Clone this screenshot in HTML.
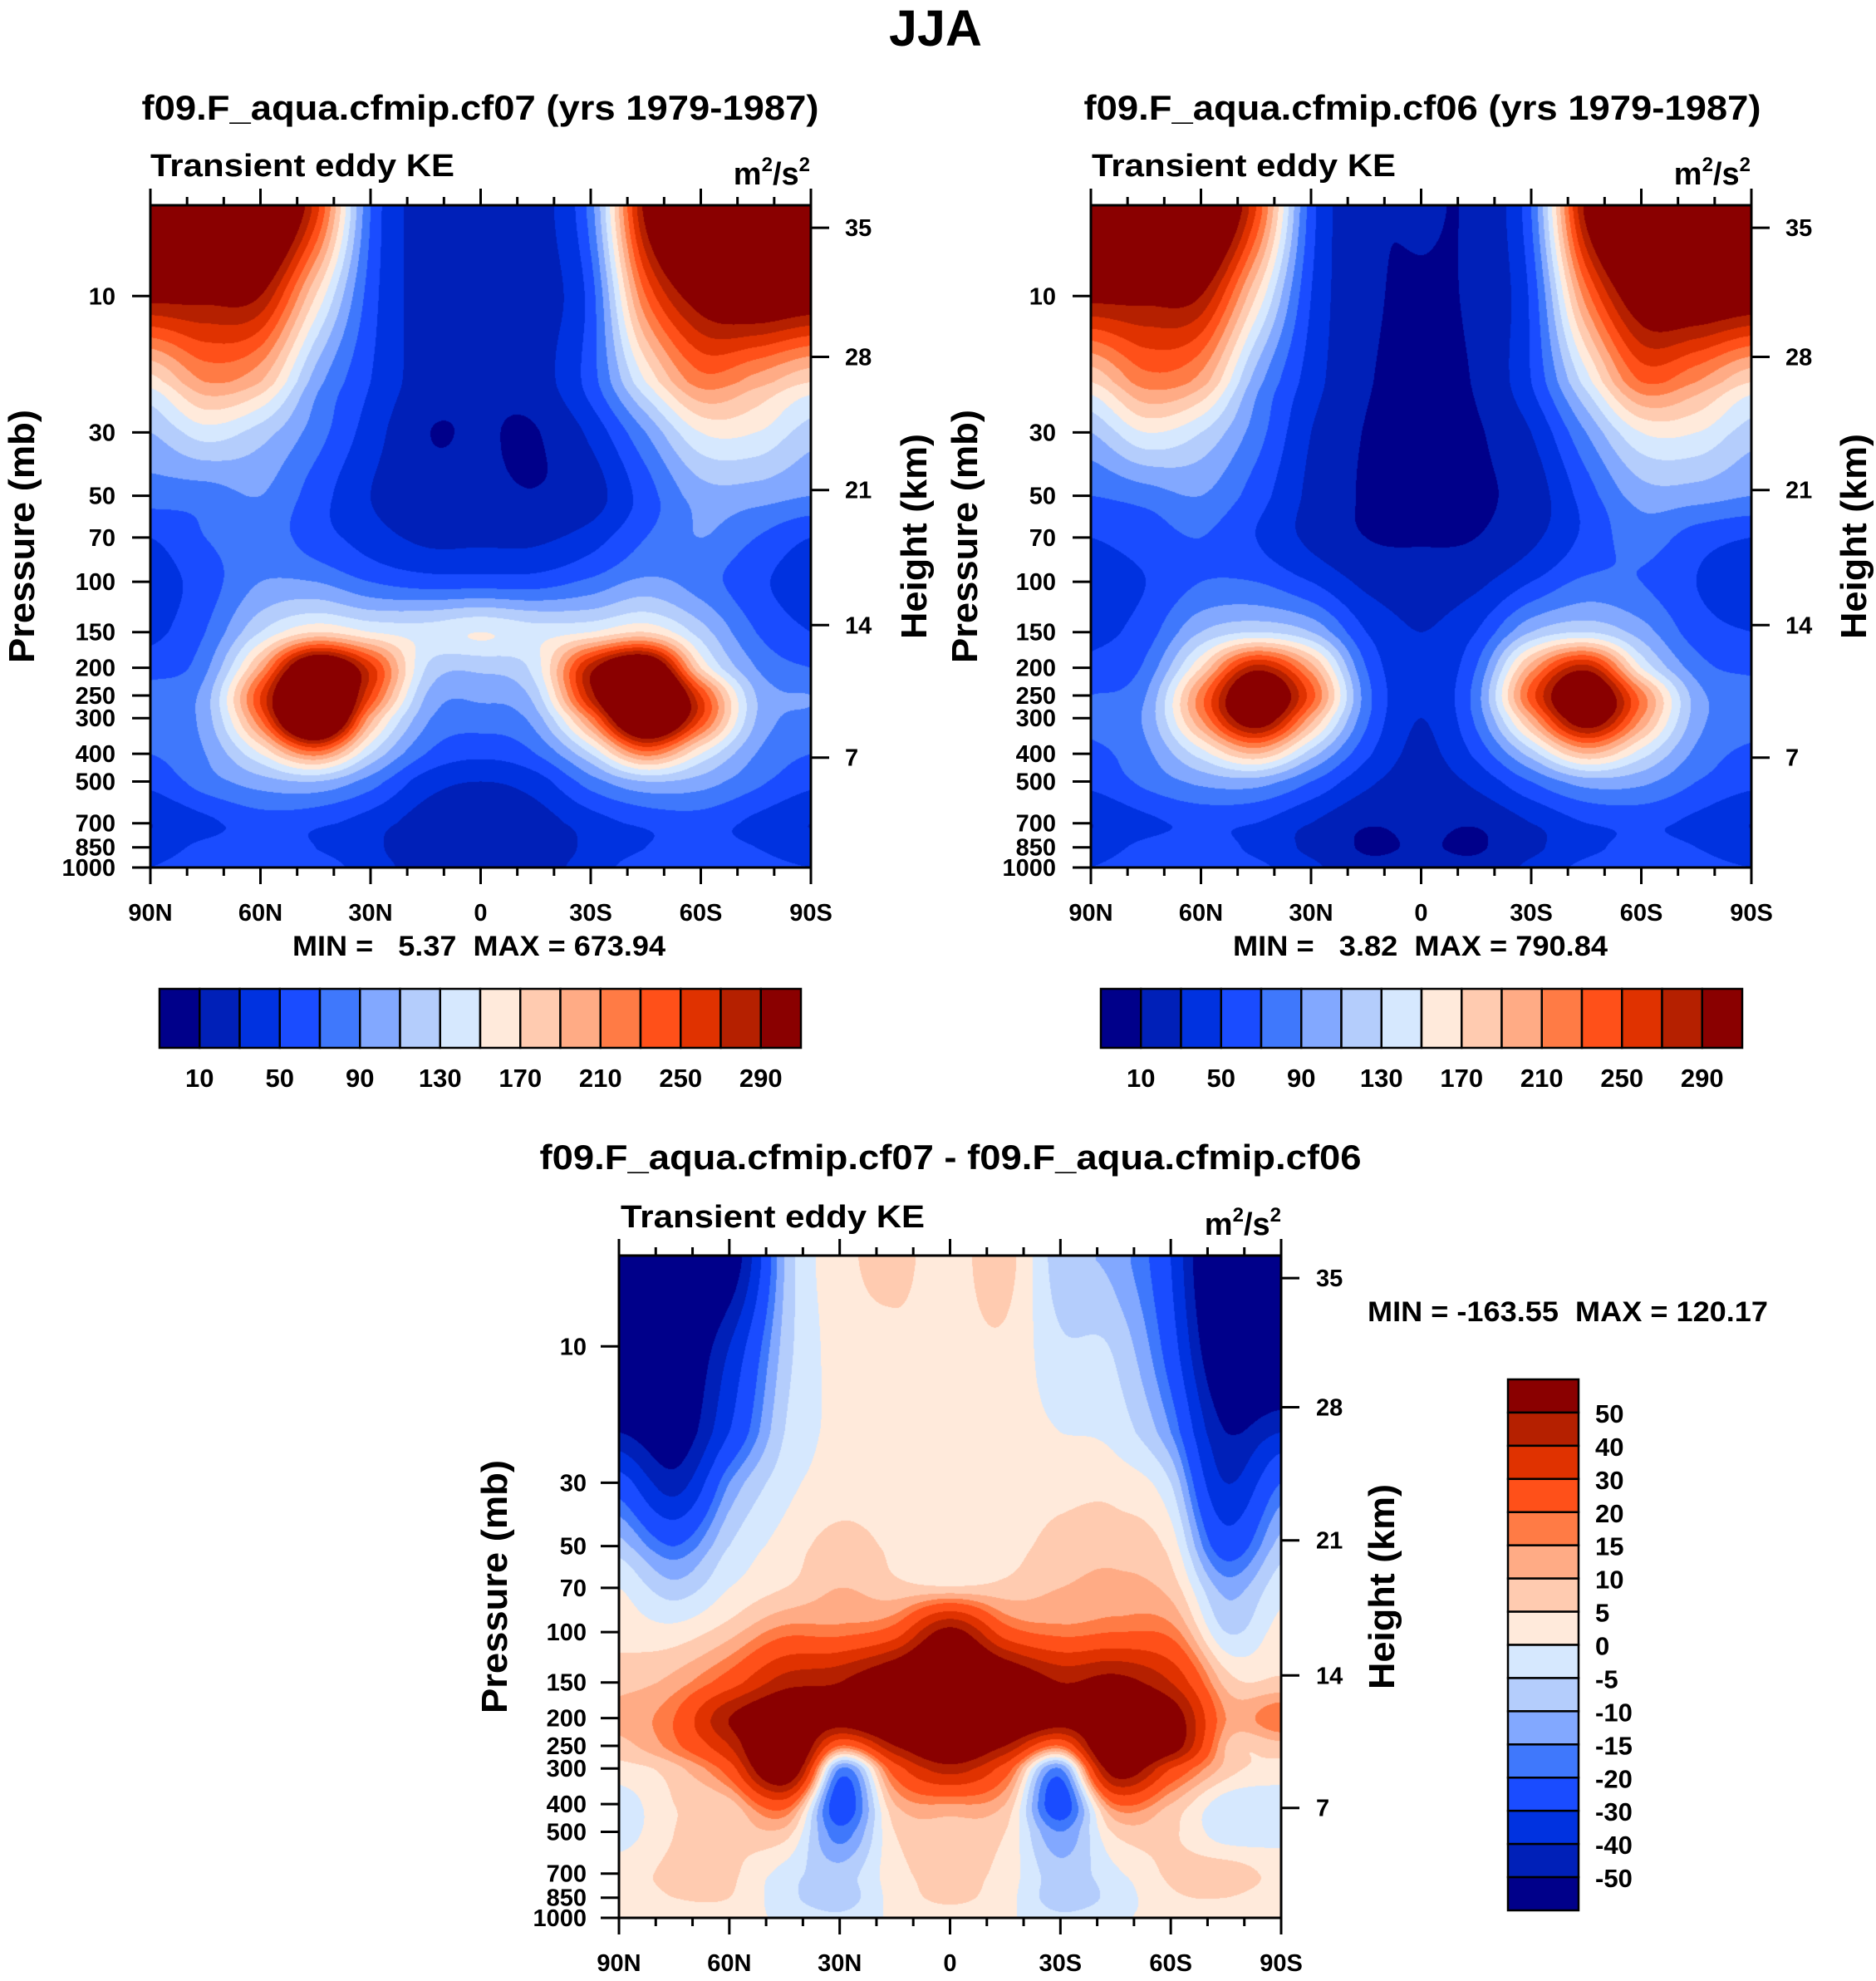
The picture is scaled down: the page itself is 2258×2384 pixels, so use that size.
<!DOCTYPE html>
<html><head><meta charset="utf-8">
<style>
html,body{margin:0;padding:0;background:#fff;}
#root{position:relative;width:2258px;height:2384px;overflow:hidden;background:#fff;font-family:"Liberation Sans",sans-serif;}
canvas{position:absolute;}
svg{position:absolute;left:0;top:0;}
text{font-family:"Liberation Sans",sans-serif;font-weight:bold;fill:#000;}
</style></head>
<body>
<div id="root">
<canvas id="c1" style="left:181px;top:247px" width="795" height="797"></canvas>
<canvas id="c2" style="left:1313px;top:247px" width="795" height="797"></canvas>
<canvas id="c3" style="left:745px;top:1511px" width="797" height="797"></canvas>
<svg id="s" width="2258" height="2384">
<text x="1126" y="55" font-size="61" text-anchor="middle">JJA</text>
<text x="578" y="144" font-size="42" text-anchor="middle" textLength="815" lengthAdjust="spacingAndGlyphs">f09.F_aqua.cfmip.cf07 (yrs 1979-1987)</text>
<text x="1712" y="144" font-size="42" text-anchor="middle" textLength="815" lengthAdjust="spacingAndGlyphs">f09.F_aqua.cfmip.cf06 (yrs 1979-1987)</text>
<text x="1144" y="1407" font-size="42" text-anchor="middle" textLength="989" lengthAdjust="spacingAndGlyphs">f09.F_aqua.cfmip.cf07 - f09.F_aqua.cfmip.cf06</text>
<text x="352" y="1150" font-size="34" textLength="449" lengthAdjust="spacingAndGlyphs" xml:space="preserve">MIN =   5.37  MAX = 673.94</text>
<text x="1484" y="1150" font-size="34" textLength="451" lengthAdjust="spacingAndGlyphs" xml:space="preserve">MIN =   3.82  MAX = 790.84</text>
<text x="1646" y="1590" font-size="34" textLength="482" lengthAdjust="spacingAndGlyphs" xml:space="preserve">MIN = -163.55  MAX = 120.17</text>
</svg>
</div>
<script>
// ---- data ----
const latLabels=["90N","60N","30N","0","30S","60S","90S"];
const pressureLevels=[5,10,20,30,50,70,100,150,200,250,300,400,500,700,850,1000];
const pressureTicks=[10,30,50,70,100,150,200,250,300,400,500,700,850,1000];
const heightTicks=[35,28,21,14,7];
const heightFrac=[0.034,0.229,0.430,0.634,0.834];
const levelsKE=[10,30,50,70,90,110,130,150,170,190,210,230,250,270,290];
const levelsKELabels=["10","50","90","130","170","210","250","290"];
const levelsDiff=[-50,-40,-30,-20,-15,-10,-5,0,5,10,15,20,30,40,50];
const levelsDiffLabels=["50","40","30","20","15","10","5","0","-5","-10","-15","-20","-30","-40","-50"];
const palette=["#00008a","#0020b8","#0032e0","#1a4cff","#3f78fc","#82a8ff","#b4cdfc","#d6e8fe","#ffeadb","#ffcbb0","#ffab85","#ff7b45","#ff5019","#e03200","#b52000","#8a0000"];
const keCF07=[
[400,400,380,260,70,20,15,20,80,300,400,400,400],
[300,300,290,170,60,20,15,20,60,230,310,330,320],
[160,210,190,100,50,20,14,20,60,150,220,200,170],
[110,140,120,80,40,11,12,9,35,90,150,150,120],
[80,80,90,60,30,18,15,11,20,60,100,100,90],
[50,70,80,60,40,25,25,25,40,70,90,70,50],
[40,60,90,90,70,60,60,60,75,95,80,55,40],
[45,70,130,170,150,140,150,140,150,170,120,70,50],
[60,85,200,350,260,130,115,140,280,350,170,90,70],
[80,100,250,400,250,110,95,120,280,400,250,110,90],
[80,100,230,400,200,95,80,100,220,380,250,110,85],
[70,90,150,220,130,70,55,70,130,220,150,90,70],
[55,80,100,110,80,40,30,40,80,110,100,75,55],
[30,45,60,55,40,20,15,20,40,55,60,45,30],
[40,55,60,50,35,15,11,15,35,50,55,50,40],
[50,60,65,60,40,20,15,20,40,60,60,55,50]];
const keCF06=[
[400,400,380,250,60,15,12,15,70,300,400,400,400],
[300,300,290,170,50,15,8,15,55,220,320,330,320],
[170,220,200,100,40,12,6,12,50,140,230,210,170],
[110,150,130,80,30,9,5,8,30,90,150,150,120],
[70,80,90,60,25,8,5,8,18,60,100,100,90],
[50,60,70,50,25,10,8,10,25,55,80,60,50],
[40,50,70,70,50,25,20,25,50,75,70,50,40],
[45,60,110,130,110,50,30,50,110,130,100,60,50],
[55,75,170,280,200,70,35,70,200,280,150,80,65],
[70,90,220,340,240,80,35,80,240,340,220,100,80],
[75,95,210,320,200,75,30,75,200,320,210,100,80],
[65,85,140,190,120,55,25,55,120,190,140,85,65],
[55,75,95,100,70,35,20,35,70,100,95,70,55],
[30,45,55,50,30,12,15,12,30,50,55,45,30],
[40,55,60,45,25,8,12,8,25,45,55,50,40],
[50,60,65,55,35,15,18,15,35,55,60,55,50]];
const keDiff=[
[-80,-80,-60,-10,3,6,3,7,-8,-12,-30,-80,-80],
[-80,-70,-40,-8,2,4,3,4,-4,-6,-25,-70,-80],
[-50,-60,-30,-5,1,2,2,2,0,-2,-15,-50,-40],
[-25,-45,-15,-2,2,2,2,2,3,3,-5,-40,-20],
[-8,-20,-5,2,7,4,2,3,7,8,3,-25,-8],
[0,-8,0,5,10,7,6,7,10,12,8,-12,-2],
[3,2,8,18,18,25,55,25,18,20,18,-5,2],
[8,12,25,45,50,70,90,70,50,55,40,8,6],
[12,20,50,70,60,80,90,80,60,70,60,15,20],
[8,18,40,80,20,50,70,50,20,80,60,10,8],
[3,8,25,70,-15,25,45,25,-15,60,30,8,3],
[-3,5,8,25,-25,10,15,10,-25,20,10,-3,-3],
[-3,5,6,8,-18,5,8,5,-15,6,6,-3,-2],
[3,6,6,-2,-8,3,7,3,-8,-1,6,8,3],
[2,5,5,-3,-8,2,6,2,-8,-3,4,5,2],
[1,2,2,-1,-4,1,3,1,-4,-1,2,2,1]];

// ---- axis functions ----
const PTOP=4.81;
function pFrac(p){return Math.log(p/PTOP)/Math.log(1000/PTOP);}
function cr(a,b,c,d,t){return 0.5*((2*b)+(-a+c)*t+(2*a-5*b+4*c-d)*t*t+(-a+3*b-3*c+d)*t*t*t);}
function hex(h){return [parseInt(h.substr(1,2),16),parseInt(h.substr(3,2),16),parseInt(h.substr(5,2),16)];}
const rgb=palette.map(hex);
function drawField(id,data,levels){
  const cv=document.getElementById(id),W=cv.width,H=cv.height,ctx=cv.getContext('2d');
  const img=ctx.createImageData(W,H),nx=data[0].length,ny=data.length;
  const lp=pressureLevels.map(Math.log);
  for(let y=0;y<H;y++){
    const f=(y+0.5)/H;
    const p=Math.exp(Math.log(PTOP)+f*Math.log(1000/PTOP));
    let lpp=Math.log(Math.max(p,5));
    let j=0;while(j<ny-2&&lpp>lp[j+1])j++;
    const ty=Math.min(1,Math.max(0,(lpp-lp[j])/(lp[j+1]-lp[j])));
    const r0=data[Math.max(j-1,0)],r1=data[j],r2=data[j+1],r3=data[Math.min(j+2,ny-1)];
    const row=[];for(let i=0;i<nx;i++)row.push(cr(r0[i],r1[i],r2[i],r3[i],ty));
    for(let x=0;x<W;x++){
      const fx=(x+0.5)/W*(nx-1);let i=Math.min(Math.floor(fx),nx-2);const tx=fx-i;
      const v=cr(row[Math.max(i-1,0)],row[i],row[i+1],row[Math.min(i+2,nx-1)],tx);
      let k=0;while(k<levels.length&&v>=levels[k])k++;
      const c=rgb[k],o=(y*W+x)*4;img.data[o]=c[0];img.data[o+1]=c[1];img.data[o+2]=c[2];img.data[o+3]=255;
    }
  }
  ctx.putImageData(img,0,0);
}
drawField('c1',keCF07,levelsKE);
drawField('c2',keCF06,levelsKE);
drawField('c3',keDiff,levelsDiff);

const NS='http://www.w3.org/2000/svg',svg=document.getElementById('s');
function mk(tag,attrs,txt){const e=document.createElementNS(NS,tag);for(const k in attrs)e.setAttribute(k,attrs[k]);if(txt!==undefined)e.textContent=txt;svg.appendChild(e);return e;}

function panel(L,T,W,H,tag,pressX,heightLabelX,pressTitleX,heightTitleX,tlX,tlY,unitX,unitY){
  let e=mk('rect',{x:L,y:T,width:W,height:H,fill:'none',stroke:'#000','stroke-width':3});
  
  
  for(let d=0;d<=180;d+=10){
    const x=L+W*d/180,maj=d%30===0,len=maj?20:10;
    e=mk('line',{x1:x,y1:T,x2:x,y2:T-len,stroke:'#000','stroke-width':3});
    
    
    e=mk('line',{x1:x,y1:T+H,x2:x,y2:T+H+len,stroke:'#000','stroke-width':3});
    
    
  }
  latLabels.forEach((s,i)=>{
    const t=mk('text',{x:L+W*i/6,y:T+H+64,'font-size':29,'text-anchor':'middle'},s);
    
    
  });
  pressureTicks.forEach(p=>{
    const y=T+H*pFrac(p);
    let l=mk('line',{x1:L,y1:y,x2:L-22,y2:y,stroke:'#000','stroke-width':3});
    
    
    const t=mk('text',{x:pressX,y:y+10,'font-size':29,'text-anchor':'end'},String(p));
    
    
  });
  heightTicks.forEach((h,i)=>{
    const y=T+H*heightFrac[i];
    let l=mk('line',{x1:L+W,y1:y,x2:L+W+22,y2:y,stroke:'#000','stroke-width':3});
    
    
    const t=mk('text',{x:heightLabelX,y:y+10,'font-size':29},String(h));
    
    
  });
  const cy=T+H*0.5;
  let t=mk('text',{x:0,y:0,'font-size':44,'text-anchor':'middle',textLength:305,lengthAdjust:'spacingAndGlyphs',transform:`translate(${pressTitleX},${cy}) rotate(-90)`},'Pressure (mb)');
  
  
  t=mk('text',{x:0,y:0,'font-size':44,'text-anchor':'middle',textLength:247,lengthAdjust:'spacingAndGlyphs',transform:`translate(${heightTitleX},${cy}) rotate(-90)`},'Height (km)');
  
  
  t=mk('text',{x:tlX,y:tlY,'font-size':38,textLength:366,lengthAdjust:'spacingAndGlyphs'},'Transient eddy KE');
  
  
  t=mk('text',{x:unitX,y:unitY,'font-size':38,'text-anchor':'end'});
  t.innerHTML='m<tspan font-size="24" dy="-16">2</tspan><tspan dy="16">/s</tspan><tspan font-size="24" dy="-16">2</tspan>';
  
  
}
panel(181,247,795,797,'panel1',139,1017,41,1115,181,212,975,222);
panel(1313,247,795,797,'panel2',1271,2149,1176,2246,1314,212,2107,222);
panel(745,1511,797,797,'panel3',706,1584,610,1678,747,1477,1542,1486);

function hbar(L,T,W,H,tag){
  const n=palette.length,bw=W/n;
  palette.forEach((c,i)=>{
    const r=mk('rect',{x:L+i*bw,y:T,width:bw,height:H,fill:c,stroke:'#000','stroke-width':2.5});
    
    
  });
  levelsKELabels.forEach((s,i)=>{
    const t=mk('text',{x:L+bw*(1+2*i),y:T+H+47,'font-size':31,'text-anchor':'middle'},s);
    
    
  });
}
hbar(192,1190,772,71,'panel1');
hbar(1325,1190,772,71,'panel2');
(function(){
  const L=1815,T=1660,W=85,H=639,n=palette.length,bh=H/n;
  for(let i=0;i<n;i++){
    const r=mk('rect',{x:L,y:T+i*bh,width:W,height:bh,fill:palette[n-1-i],stroke:'#000','stroke-width':2.5});
    
    
  }
  levelsDiffLabels.forEach((s,i)=>{
    const t=mk('text',{x:1920,y:T+bh*(i+1)+12,'font-size':31},s);
    
    
  });
})();
</script>
</body></html>
